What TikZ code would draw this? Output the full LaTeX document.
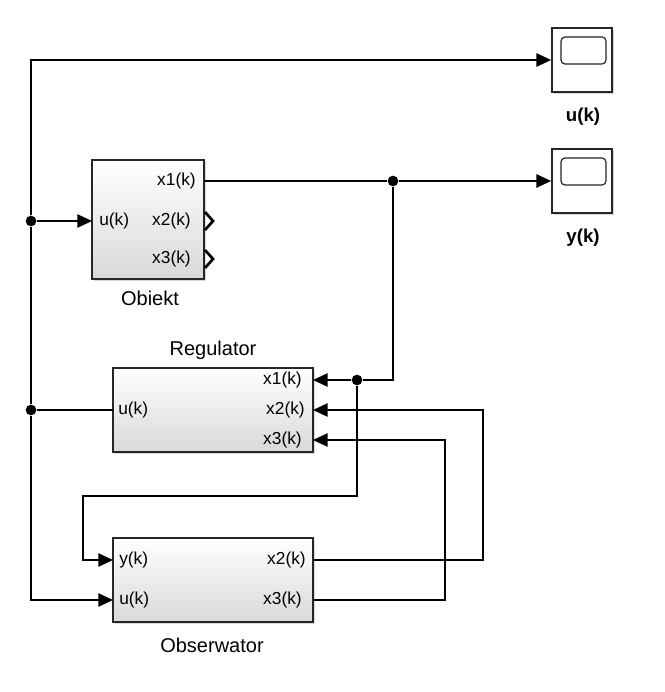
\documentclass[tikz,border=0pt]{standalone}
\usepackage{fontspec}
\setmainfont{Liberation Sans}
\usetikzlibrary{arrows.meta,shadows}
\begin{document}
\begin{tikzpicture}[x=0.75pt,y=-0.75pt,
  wire/.style={line width=1.1pt, draw=black},
  sig/.style={wire, -{Triangle[length=11pt,width=10pt]}},
  block/.style={draw=black!85, line width=1.3pt, top color=white, bottom color=black!15,
    drop shadow={shadow xshift=1.4pt, shadow yshift=-1.4pt, opacity=0.3}, inner sep=0pt},
  scopebox/.style={draw=black!85, line width=1.3pt, fill=white,
    drop shadow={shadow xshift=1.4pt, shadow yshift=-1.4pt, opacity=0.3}, inner sep=0pt,
    minimum width=45pt, minimum height=48pt},
  screen/.style={draw=black!85, line width=0.9pt, rounded corners=3pt},
  chevron/.style={line width=2pt, draw=black},
  port/.style={font=\fontsize{13}{15}\selectfont, inner sep=0pt},
  title/.style={font=\fontsize{15}{17}\selectfont, inner sep=0pt},
  scopelbl/.style={font=\bfseries\fontsize{14}{16}\selectfont, inner sep=0pt},
  junction/.style={circle, fill=black, inner sep=0pt, minimum size=8pt},
]
\useasboundingbox (0,0) rectangle (664,692);

% scopes
\node[scopebox] (scU) at (582,60) {};
\node[scopebox] (scY) at (582,181) {};
\draw[screen] (561,37) rectangle (606,64);
\draw[screen] (561,158) rectangle (606,185);
\node[scopelbl] (scUlbl) at (583,117) {u(k)};
\node[scopelbl] (scYlbl) at (583,238) {y(k)};

% subsystem blocks
\node[block, minimum width=84pt, minimum height=89.25pt] (obj) at (148,219.5) {};
\node[block, minimum width=150pt, minimum height=63pt] (reg) at (213,410) {};
\node[block, minimum width=150pt, minimum height=63pt] (obs) at (213,580) {};

\node[title] (objT) at (150,298) {Obiekt};
\node[title] (regT) at (213,350) {Regulator};
\node[title] (obsT) at (212,645) {Obserwator};

% port labels
\node[port, anchor=west] at (99,221) {u(k)};
\node[port, anchor=east] at (196,181) {x1(k)};
\node[port, anchor=east] at (191,221) {x2(k)};
\node[port, anchor=east] at (191,259) {x3(k)};

\node[port, anchor=west] at (118,410) {u(k)};
\node[port, anchor=east] at (302,380) {x1(k)};
\node[port, anchor=east] at (305,410) {x2(k)};
\node[port, anchor=east] at (302,440) {x3(k)};

\node[port, anchor=west] at (119,560) {y(k)};
\node[port, anchor=west] at (119,600) {u(k)};
\node[port, anchor=east] at (306,560) {x2(k)};
\node[port, anchor=east] at (302,600) {x3(k)};

% unconnected outputs of Obiekt
\draw[chevron] (205,212) -- (213,221) -- (205,230);
\draw[chevron] (205,250) -- (213,259) -- (205,268);

% port coordinates
\coordinate (obj-u) at (92,221);
\coordinate (obj-x1) at (204,181);
\coordinate (reg-u) at (113,410);
\coordinate (reg-x1) at (313,380);
\coordinate (reg-x2) at (313,410);
\coordinate (reg-x3) at (313,440);
\coordinate (obs-y) at (113,560);
\coordinate (obs-u) at (113,600);
\coordinate (obs-x2) at (313,560);
\coordinate (obs-x3) at (313,600);

% branch points
\node[junction] (jl1) at (31,221) {};
\node[junction] (jl2) at (31,410) {};
\node[junction] (jr1) at (393,181) {};
\node[junction] (jr2) at (357,380) {};

\coordinate (loopA) at (357,496);
\coordinate (loopB) at (83,496);
\coordinate (bendA) at (483,410);
\coordinate (bendB) at (445,440);

% control signal u(k)
\draw[wire] (reg-u) -- (jl2);
\draw[wire] (jl2) -- (jl1);
\draw[sig] (jl1) |- (scU.west);
\draw[sig] (jl1) -- (obj-u);
\draw[sig] (jl2) |- (obs-u);

% measured output x1(k)
\draw[wire] (obj-x1) -- (jr1);
\draw[sig] (jr1) -- (scY.west);
\draw[wire] (jr1) |- (jr2);
\draw[sig] (jr2) -- (reg-x1);
\draw[sig] (jr2) -- (loopA) -- (loopB) |- (obs-y);

% estimated states
\draw[sig] (obs-x2) -| (bendA) -- (reg-x2);
\draw[sig] (obs-x3) -| (bendB) -- (reg-x3);
\end{tikzpicture}
\end{document}
